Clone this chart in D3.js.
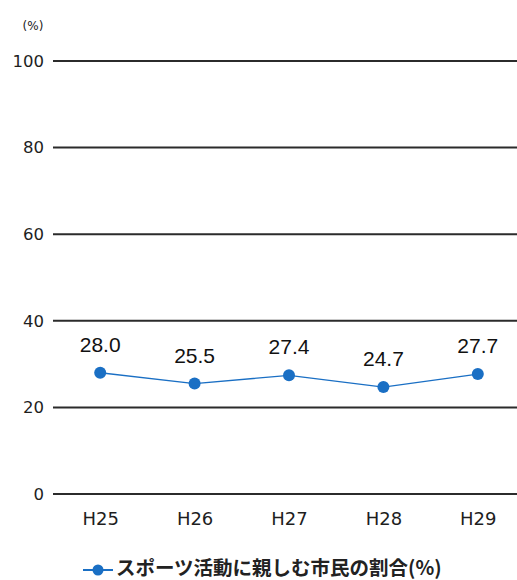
<!DOCTYPE html>
<html>
<head>
<meta charset="utf-8">
<script src="https://cdn.jsdelivr.net/npm/d3@7"></script>
<style>
  html, body { margin: 0; padding: 0; background: #fff; }
  svg { display: block; }
</style>
</head>
<body>
<svg id="chart" width="517" height="580"></svg>
<script>
// Share of citizens engaged in sports activities, by fiscal year
const categories = ["H25", "H26", "H27", "H28", "H29"];
const values = [28.0, 25.5, 27.4, 24.7, 27.7];
const yTicks = [0, 20, 40, 60, 80, 100];
const seriesName = "スポーツ活動に親しむ市民の割合(%)";
const unitLabel = "(%)";

const svg = d3.select("#chart");
const blue = "#1a6fc4";
const gridColor = "#2b2b2b";
const numFont = "'DejaVu Sans', sans-serif";
const valueFont = "'Liberation Sans', Arial, sans-serif";

const x = d3.scalePoint().domain(categories).range([53, 525]).padding(0.5);
const y = d3.scaleLinear().domain([0, 100]).range([494, 61]);

// horizontal gridlines at each tick
svg.append("g")
  .selectAll("line")
  .data(yTicks)
  .join("line")
  .attr("x1", 53).attr("x2", 517)
  .attr("y1", d => y(d)).attr("y2", d => y(d))
  .attr("stroke", gridColor)
  .attr("stroke-width", 2);

// y-axis labels
const yAxis = d3.axisLeft(y).tickValues(yTicks).tickSize(0).tickPadding(9);
const gy = svg.append("g").attr("transform", "translate(53,0)").call(yAxis);
gy.select(".domain").remove();
gy.selectAll("text")
  .attr("font-family", numFont)
  .attr("font-size", 16.5)
  .attr("font-weight", 500)
  .attr("fill", "#1e1e1e");

// x-axis labels
const xAxis = d3.axisBottom(x).tickSize(0).tickPadding(18);
const gx = svg.append("g").attr("transform", "translate(0,494)").call(xAxis);
gx.select(".domain").remove();
gx.selectAll("text")
  .attr("font-family", numFont)
  .attr("font-size", 18)
  .attr("fill", "#1e1e1e");

// unit label
svg.append("text")
  .attr("x", 33).attr("y", 30)
  .attr("text-anchor", "middle")
  .attr("font-family", numFont)
  .attr("font-size", 12)
  .attr("fill", "#222")
  .text(unitLabel);

// series line
const line = d3.line()
  .x((d, i) => x(categories[i]))
  .y(d => y(d));

svg.append("path")
  .datum(values)
  .attr("d", line)
  .attr("fill", "none")
  .attr("stroke", blue)
  .attr("stroke-width", 1.3);

svg.append("g")
  .selectAll("circle")
  .data(values)
  .join("circle")
  .attr("cx", (d, i) => x(categories[i]))
  .attr("cy", d => y(d))
  .attr("r", 6)
  .attr("fill", blue);

// value labels
svg.append("g")
  .selectAll("text")
  .data(values)
  .join("text")
  .attr("x", (d, i) => x(categories[i]))
  .attr("y", d => y(d) - 21)
  .attr("text-anchor", "middle")
  .attr("font-family", valueFont)
  .attr("font-size", 21)
  .attr("fill", "#111")
  .text(d => d.toFixed(1));

// legend
const legend = svg.append("g").attr("transform", "translate(83,570)");
legend.append("line")
  .attr("x1", 0).attr("x2", 30)
  .attr("y1", 0).attr("y2", 0)
  .attr("stroke", blue).attr("stroke-width", 2);
legend.append("circle")
  .attr("cx", 15).attr("cy", 0).attr("r", 5.5)
  .attr("fill", blue);
legend.append("text")
  .attr("x", 33).attr("y", 4.5)
  .attr("font-family", "'Noto Sans CJK JP', sans-serif")
  .attr("font-size", 19.5)
  .attr("font-weight", 700)
  .attr("fill", "#222")
  .text(seriesName);
</script>
</body>
</html>
